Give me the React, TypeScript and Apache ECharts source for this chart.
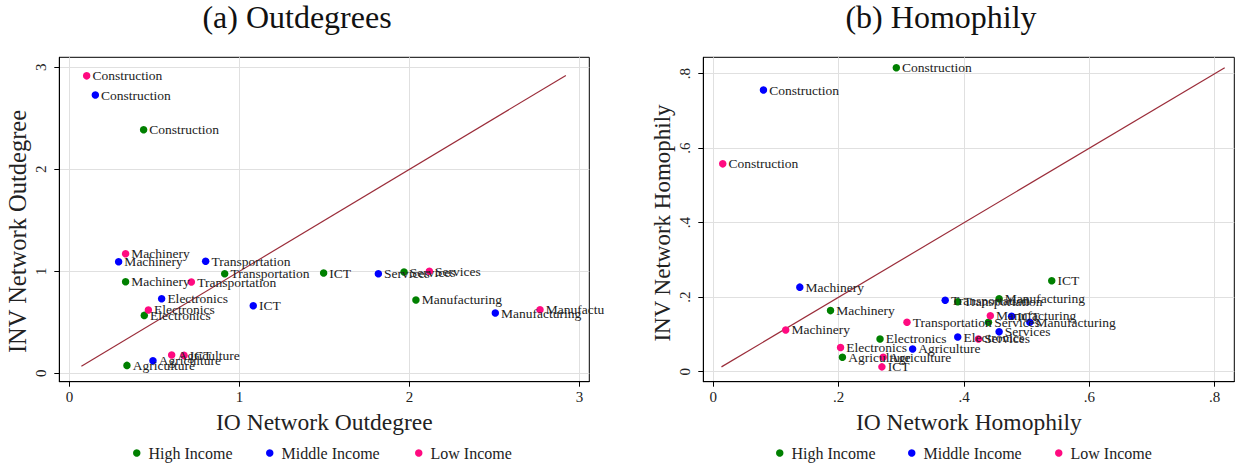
import React, { useEffect, useRef } from "react";
import * as echarts from "echarts";

const FONT = "'Liberation Serif', 'Times New Roman', serif";

const sectors = ["Agriculture", "Construction", "Electronics", "ICT", "Machinery", "Manufacturing", "Services", "Transportation"];
const groups = ["High Income", "Middle Income", "Low Income"];
const groupColors = ["#008000", "#0000ff", "#ff0a80"];

// Panel (a) Outdegrees: IO (x) and INV (y)
const outIoHigh = [0.338, 0.436, 0.44, 1.495, 0.33, 2.038, 1.968, 0.913];
const outInvHigh = [0.078, 2.388, 0.568, 0.983, 0.898, 0.719, 0.993, 0.976];
const outIoMiddle = [0.491, 0.152, 0.542, 1.081, 0.289, 2.505, 1.817, 0.801];
const outInvMiddle = [0.124, 2.728, 0.731, 0.663, 1.094, 0.591, 0.977, 1.098];
const outIoLow = [0.601, 0.101, 0.464, 0.674, 0.33, 2.768, 2.117, 0.717];
const outInvLow = [0.179, 2.916, 0.621, 0.176, 1.173, 0.624, 1.0, 0.895];
const outDiag = [0.07, 2.92];
const outTicks = [0, 1, 2, 3];

// Panel (b) Homophily
const homIoHigh = [0.206, 0.292, 0.266, 0.54, 0.187, 0.456, 0.439, 0.39];
const homInvHigh = [0.039, 0.816, 0.088, 0.244, 0.164, 0.196, 0.133, 0.188];
const homIoMiddle = [0.318, 0.08, 0.39, 0.476, 0.138, 0.505, 0.456, 0.37];
const homInvMiddle = [0.061, 0.756, 0.093, 0.149, 0.227, 0.133, 0.107, 0.192];
const homIoLow = [0.271, 0.015, 0.203, 0.269, 0.1155, 0.442, 0.423, 0.309];
const homInvLow = [0.039, 0.558, 0.065, 0.013, 0.112, 0.15, 0.088, 0.133];
const homDiag = [0.013, 0.816];
const homTicks = [0, 0.2, 0.4, 0.6, 0.8];

const outX = [outIoHigh, outIoMiddle, outIoLow];
const outY = [outInvHigh, outInvMiddle, outInvLow];
const homX = [homIoHigh, homIoMiddle, homIoLow];
const homY = [homInvHigh, homInvMiddle, homInvLow];

const fmtDot = (v: number) => (v === 0 ? "0" : String(Number(v.toFixed(2))).replace(/^0\./, "."));

function scatterSeries(panel: number, gi: number, xs: number[], ys: number[]) {
  return {
    type: "scatter",
    name: groups[gi],
    xAxisIndex: panel,
    yAxisIndex: panel,
    symbol: "circle",
    symbolSize: 7.5,
    itemStyle: { color: groupColors[gi], opacity: 1 },
    z: 3,
    label: {
      show: true,
      position: "right",
      distance: 2,
      formatter: "{b}",
      fontFamily: FONT,
      fontSize: 13.5,
      color: "#222",
    },
    emphasis: { disabled: true },
    data: sectors.map((s, i) => {
      const item: any = { name: s, value: [xs[i], ys[i]] };
      if (panel === 0 && gi === 2 && s === "Manufacturing") {
        item.label = { width: 61.5, overflow: "truncate", ellipsis: "" };
      }
      return item;
    }),
  };
}

function diagSeries(panel: number, d: number[]) {
  return {
    type: "line",
    name: "diag" + panel,
    xAxisIndex: panel,
    yAxisIndex: panel,
    symbol: "none",
    z: 2,
    lineStyle: { color: "#9b2d3a", width: 1.2 },
    emphasis: { disabled: true },
    data: [
      [d[0], d[0]],
      [d[1], d[1]],
    ],
  };
}

function makeXAxis(grid: number, min: number, max: number, ticks: number[], name: string) {
  return {
    type: "value",
    gridIndex: grid,
    min,
    max,
    name,
    nameLocation: "middle",
    nameGap: 21,
    nameTextStyle: { fontFamily: FONT, fontSize: 23.5, color: "#222" },
    axisLine: { show: true, onZero: false, lineStyle: { color: "#000", width: 1 } },
    axisTick: { show: true, length: 5, customValues: ticks, lineStyle: { color: "#000" } },
    axisLabel: {
      customValues: ticks,
      fontFamily: FONT,
      fontSize: 15,
      color: "#222",
      margin: 8,
      formatter: fmtDot,
    },
    splitLine: { show: true, lineStyle: { color: "#e0e0e0", width: 1 } },
  };
}

function makeYAxis(grid: number, min: number, max: number, ticks: number[], name: string, nameSize: number, shift: number) {
  return {
    type: "value",
    gridIndex: grid,
    min,
    max,
    name,
    nameLocation: "middle",
    nameGap: 29,
    nameTextStyle: { fontFamily: FONT, fontSize: nameSize, color: "#222", padding: [0, shift, 0, 0] },
    axisLine: { show: true, onZero: false, lineStyle: { color: "#000", width: 1 } },
    axisTick: { show: true, length: 5, customValues: ticks, lineStyle: { color: "#000" } },
    axisLabel: {
      customValues: ticks,
      rotate: 90,
      fontFamily: FONT,
      fontSize: 15,
      color: "#222",
      margin: 11,
      formatter: fmtDot,
    },
    splitLine: { show: true, lineStyle: { color: "#e0e0e0", width: 1 } },
  };
}

function legendItem(name: string, left: number) {
  return {
    data: [name],
    left,
    top: 445,
    padding: 0,
    icon: "circle",
    itemWidth: 7.5,
    itemHeight: 7.5,
    selectedMode: false,
    textStyle: { fontFamily: FONT, fontSize: 16, color: "#222", padding: [0, 0, 0, 3] },
  };
}

export default function App() {
  const ref = useRef<HTMLDivElement>(null);
  useEffect(() => {
    document.body.style.margin = "0";
    if (!ref.current) return;
    const chart = echarts.init(ref.current, undefined, { renderer: "svg" });
    const series: any[] = [diagSeries(0, outDiag), diagSeries(1, homDiag)];
    for (let g = 0; g < 3; g++) series.push(scatterSeries(0, g, outX[g], outY[g]));
    for (let g = 0; g < 3; g++) series.push(scatterSeries(1, g, homX[g], homY[g]));
    const titleStyle = { fontFamily: FONT, fontSize: 32, fontWeight: "normal", color: "#111" };
    chart.setOption({
      animation: false,
      backgroundColor: "#fff",
      title: [
        { text: "(a) Outdegrees", left: 297, top: 1, textAlign: "center", padding: 0, textStyle: titleStyle },
        { text: "(b) Homophily", left: 941, top: 1, textAlign: "center", padding: 0, textStyle: titleStyle },
      ],
      grid: [
        { left: 59.3, top: 57.3, width: 530, height: 324.4, show: true, borderColor: "#000", borderWidth: 1, backgroundColor: "transparent" },
        { left: 703.3, top: 57.3, width: 531, height: 324.4, show: true, borderColor: "#000", borderWidth: 1, backgroundColor: "transparent" },
      ],
      xAxis: [
        makeXAxis(0, -0.06, 3.058, outTicks, "IO Network Outdegree"),
        makeXAxis(1, -0.016, 0.8313, homTicks, "IO Network Homophily"),
      ],
      yAxis: [
        makeYAxis(0, -0.082, 3.098, outTicks, "INV Network Outdegree", 24.5, 24),
        makeYAxis(1, -0.0268, 0.844, homTicks, "INV Network Homophily", 23, 7),
      ],
      legend: [
        legendItem("High Income", 133),
        legendItem("Middle Income", 266),
        legendItem("Low Income", 415),
        legendItem("High Income", 776),
        legendItem("Middle Income", 908),
        legendItem("Low Income", 1055),
      ],
      series,
    });
    return () => chart.dispose();
  }, []);
  return <div ref={ref} style={{ width: 1246, height: 466 }} />;
}
